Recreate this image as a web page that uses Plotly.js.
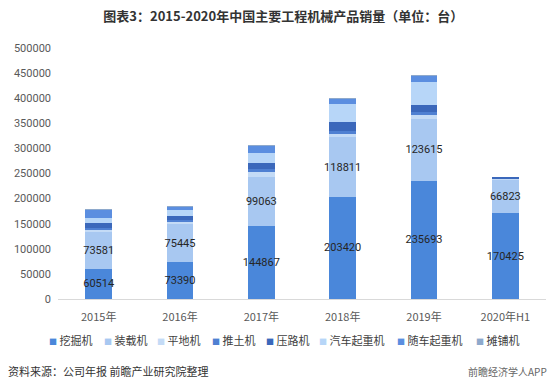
<!DOCTYPE html>
<html>
<head>
<meta charset="utf-8">
<script src="https://cdn.plot.ly/plotly-3.0.1.min.js"></script>
<style>html,body{margin:0;padding:0;background:#fff;}#chart{width:550px;height:390px;}</style>
</head>
<body>
<div id="chart"></div>
<script>
var years = ['2015年', '2016年', '2017年', '2018年', '2019年', '2020年H1'];
var seriesNames = ['挖掘机', '装载机', '平地机', '推土机', '压路机', '汽车起重机', '随车起重机', '摊铺机'];
var excavator = [60514, 73390, 144867, 203420, 235693, 170425];
var loader = [73581, 75445, 99063, 118811, 123615, 66823];
var grader = [3000, 3800, 9800, 5600, 7000, 1000];
var bulldozer = [4500, 4500, 5500, 7000, 5500, 1500];
var roller = [9500, 8500, 11000, 17000, 14500, 3500];
var truckCrane = [11000, 11000, 21000, 36000, 45000, 0];
var mountedCrane = [16000, 7000, 13000, 11000, 12500, 0];
var paver = [1500, 1500, 2300, 2500, 2500, 0];
var labelledSeries = [true, true, false, false, false, false, false, false];
var colors = ['#4a87da', '#a8c8f1', '#c4dbf6', '#4f80d2', '#3b68bb', '#b7d6f8', '#5b8ee0', '#8ea9cc'];

var allValues = [excavator, loader, grader, bulldozer, roller, truckCrane, mountedCrane, paver];
var font = '"Noto Sans CJK SC", "Noto Sans", sans-serif';

var W = 550, H = 390;
var M = {l: 58, r: 4, t: 48, b: 91};
var plotW = W - M.l - M.r, plotH = H - M.t - M.b;
function px2x(p) { return (p - M.l) / plotW; }
function px2y(p) { return (H - M.b - p) / plotH; }

var traces = allValues.map(function (vals, i) {
  var t = {
    type: 'bar',
    name: seriesNames[i],
    x: years,
    y: vals,
    marker: {color: colors[i], line: {width: 0}},
    hoverinfo: 'none'
  };
  if (labelledSeries[i]) {
    t.text = vals.map(String);
    t.textposition = 'inside';
    t.insidetextanchor = 'middle';
    t.textangle = 0;
    t.constraintext = 'none';
    t.textfont = {family: 'Roboto, "Noto Sans", sans-serif', size: 11, color: '#262626'};
  } else {
    t.textposition = 'none';
  }
  return t;
});

// legend entries drawn as text annotations (one row, like the reference)
var legendStartsPx = [47, 102, 155, 210, 264, 317, 395, 474];
var annotations = seriesNames.map(function (name, i) {
  return {
    text: '<span style="color:' + colors[i] + ';font-size:8px">■</span> ' + name,
    xref: 'paper', yref: 'paper',
    x: px2x(legendStartsPx[i]), xanchor: 'left',
    y: px2y(340), yanchor: 'middle',
    showarrow: false,
    font: {family: font, size: 11, color: '#404040'}
  };
});
annotations.push({
  text: '资料来源：公司年报 前瞻产业研究院整理',
  xref: 'paper', yref: 'paper',
  x: px2x(6), xanchor: 'left',
  y: px2y(371), yanchor: 'middle',
  showarrow: false,
  font: {family: font, size: 11, color: '#333333'}
});
annotations.push({
  text: '前瞻经济学人APP',
  xref: 'paper', yref: 'paper',
  x: px2x(549), xanchor: 'right',
  y: px2y(371), yanchor: 'middle',
  showarrow: false,
  font: {family: font, size: 10, color: '#666666'}
});

var layout = {
  width: W,
  height: H,
  barmode: 'stack',
  bargap: 0.67,
  paper_bgcolor: '#ffffff',
  plot_bgcolor: '#ffffff',
  margin: M,
  font: {family: font, color: '#595959', size: 11},
  title: {
    text: '<b>图表3：2015-2020年中国主要工程机械产品销量（单位：台）</b>',
    font: {family: font, size: 13, color: '#333333'},
    x: 0.515, xref: 'container', xanchor: 'center',
    y: 0.958, yref: 'container', yanchor: 'middle'
  },
  xaxis: {
    type: 'category',
    showgrid: false,
    showline: true,
    linecolor: '#d9d9d9',
    linewidth: 1,
    ticks: '',
    ticklabelstandoff: 8,
    tickfont: {family: font, size: 11, color: '#595959'},
    fixedrange: true
  },
  yaxis: {
    range: [0, 500000],
    dtick: 50000,
    showgrid: false,
    zeroline: false,
    showline: false,
    ticks: '',
    tickformat: 'd',
    ticklabelstandoff: 6,
    tickfont: {family: 'Roboto, "Noto Sans", sans-serif', size: 11, color: '#595959'},
    fixedrange: true
  },
  showlegend: false,
  annotations: annotations
};

Plotly.newPlot('chart', traces, layout, {displayModeBar: false, staticPlot: true});
</script>
</body>
</html>
